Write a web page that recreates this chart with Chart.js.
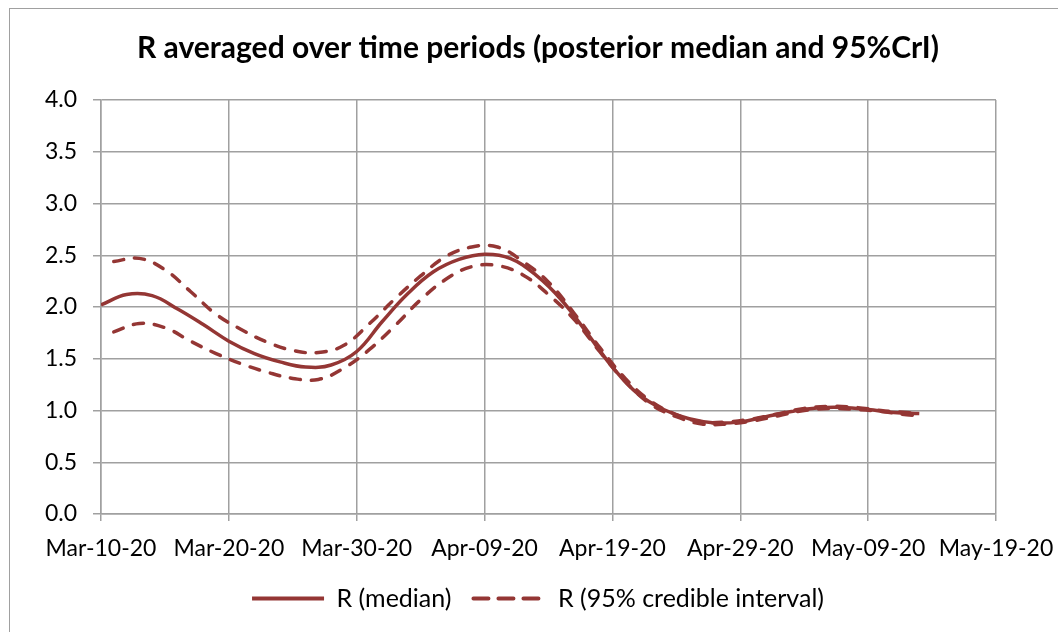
<!DOCTYPE html>
<html>
<head>
<meta charset="utf-8">
<script src="https://cdn.jsdelivr.net/npm/chart.js@4"></script>
<style>
  body { margin: 0; background: #fff; }
  #wrap { position: relative; width: 1058px; height: 632px; overflow: hidden; }
  #frame {
    position: absolute; left: 9px; top: 8px; width: 1060px; height: 640px;
    border-left: 1.5px solid #a0a0a0; border-top: 1.5px solid #a0a0a0;
    pointer-events: none;
  }
</style>
</head>
<body>
<div id="wrap">
  <canvas id="rChart" width="1058" height="632"></canvas>
  <div id="frame"></div>
</div>
<script>
// Days since Mar-10-20
const medianDays = [0, 2, 4, 6, 8, 10, 12, 14, 16, 18, 20, 22, 24, 26, 28, 30, 32,
  34, 36, 38, 40, 42, 44, 46, 48, 50, 52, 54, 56, 58, 60, 62, 64];
const medianR = [2.02, 2.12, 2.11, 1.98, 1.83, 1.67, 1.55, 1.47, 1.42, 1.44, 1.57,
  1.86, 2.13, 2.34, 2.46, 2.51, 2.47, 2.31, 2.07, 1.75, 1.42, 1.16, 1.01, 0.92,
  0.88, 0.89, 0.94, 0.99, 1.025, 1.03, 1.01, 0.98, 0.97];

const ciDays = [1, 3, 5, 7, 9, 11, 13, 15, 17, 19, 21, 23, 25, 27, 29, 31, 33, 35,
  37, 39, 41, 43, 45, 47, 49, 51, 53, 55, 57, 59, 61, 63, 64];
const upperR = [2.44, 2.47, 2.36, 2.15, 1.93, 1.78, 1.66, 1.58, 1.56, 1.63, 1.84,
  2.08, 2.30, 2.49, 2.58, 2.58, 2.44, 2.24, 1.94, 1.61, 1.31, 1.09, 0.96, 0.89,
  0.89, 0.92, 0.97, 1.02, 1.04, 1.03, 1.00, 0.98, 0.97];
const lowerR = [1.76, 1.84, 1.80, 1.67, 1.55, 1.45, 1.37, 1.31, 1.30, 1.41, 1.59,
  1.82, 2.07, 2.27, 2.39, 2.40, 2.31, 2.12, 1.88, 1.57, 1.28, 1.06, 0.94, 0.87,
  0.87, 0.90, 0.95, 1.00, 1.02, 1.01, 0.99, 0.96, 0.95];

const startDate = new Date(2020, 2, 10);
const months = ["Jan", "Feb", "Mar", "Apr", "May", "Jun", "Jul", "Aug", "Sep", "Oct", "Nov", "Dec"];

function dayLabel(d) {
  const dt = new Date(startDate.getTime());
  dt.setDate(dt.getDate() + d);
  const dd = String(dt.getDate()).padStart(2, "0");
  return months[dt.getMonth()] + "-" + dd + "-20";
}

function toPoints(xs, ys) {
  return xs.map((x, i) => ({ x: x, y: ys[i] }));
}

const lineColor = "#943634";
const fontFamily = "Lato, 'Open Sans', sans-serif";
const dash = [10, 11];

function lineDataset(label, data, dashed) {
  return {
    label: label,
    data: data,
    borderColor: lineColor,
    backgroundColor: lineColor,
    borderWidth: 3.5,
    borderDash: dashed ? dash : [],
    borderCapStyle: dashed ? "round" : "butt",
    pointRadius: 0,
    tension: 0.4,
  };
}

const ctx = document.getElementById("rChart").getContext("2d");

new Chart(ctx, {
  type: "line",
  data: {
    datasets: [
      lineDataset("R (median)", toPoints(medianDays, medianR), false),
      lineDataset("R (95% credible interval)", toPoints(ciDays, upperR), true),
      lineDataset("lower", toPoints(ciDays, lowerR), true),
    ],
  },
  options: {
    responsive: false,
    animation: false,
    devicePixelRatio: 1,
    layout: {
      padding: { left: 18, right: 0, top: 0, bottom: 11 },
    },
    plugins: {
      title: {
        display: true,
        text: "R averaged over time periods (posterior median and 95%CrI)",
        color: "#000",
        font: { family: fontFamily, size: 30, weight: "bold" },
        padding: { top: 30, bottom: 34 },
      },
      legend: {
        position: "bottom",
        labels: {
          color: "#000",
          font: { family: fontFamily, size: 25 },
          usePointStyle: true,
          pointStyle: "line",
          pointStyleWidth: 72,
          boxHeight: 4,
          padding: 22,
          filter: (item) => item.datasetIndex < 2,
          // point styles drop the dataset dash, so put it back
          generateLabels: (chart) => {
            const items = Chart.defaults.plugins.legend.labels.generateLabels(chart);
            items.forEach((item) => {
              const ds = chart.data.datasets[item.datasetIndex];
              item.lineDash = ds.borderDash.length ? [15, 10] : [];
              item.lineCap = ds.borderCapStyle;
              item.lineWidth = 4;
            });
            return items;
          },
        },
      },
      tooltip: { enabled: false },
    },
    scales: {
      x: {
        type: "linear",
        min: 0,
        max: 70,
        ticks: {
          stepSize: 10,
          color: "#000",
          font: { family: fontFamily, size: 23 },
          padding: 14,
          maxRotation: 0,
          callback: (v) => dayLabel(v),
        },
        grid: { color: "#a0a0a0", lineWidth: 1.5, tickLength: 7 },
        border: { color: "#a0a0a0", width: 1.5 },
        afterFit: (scale) => {
          scale.height = 50;
          scale.paddingRight = 62;
        },
      },
      y: {
        min: 0,
        max: 4,
        ticks: {
          stepSize: 0.5,
          color: "#000",
          font: { family: fontFamily, size: 23 },
          padding: 16,
          callback: (v) => v.toFixed(1),
        },
        grid: { color: "#a0a0a0", lineWidth: 1.5, tickLength: 8 },
        border: { color: "#a0a0a0", width: 1.5 },
        afterFit: (scale) => { scale.width = 83; },
      },
    },
  },
});
</script>
</body>
</html>
